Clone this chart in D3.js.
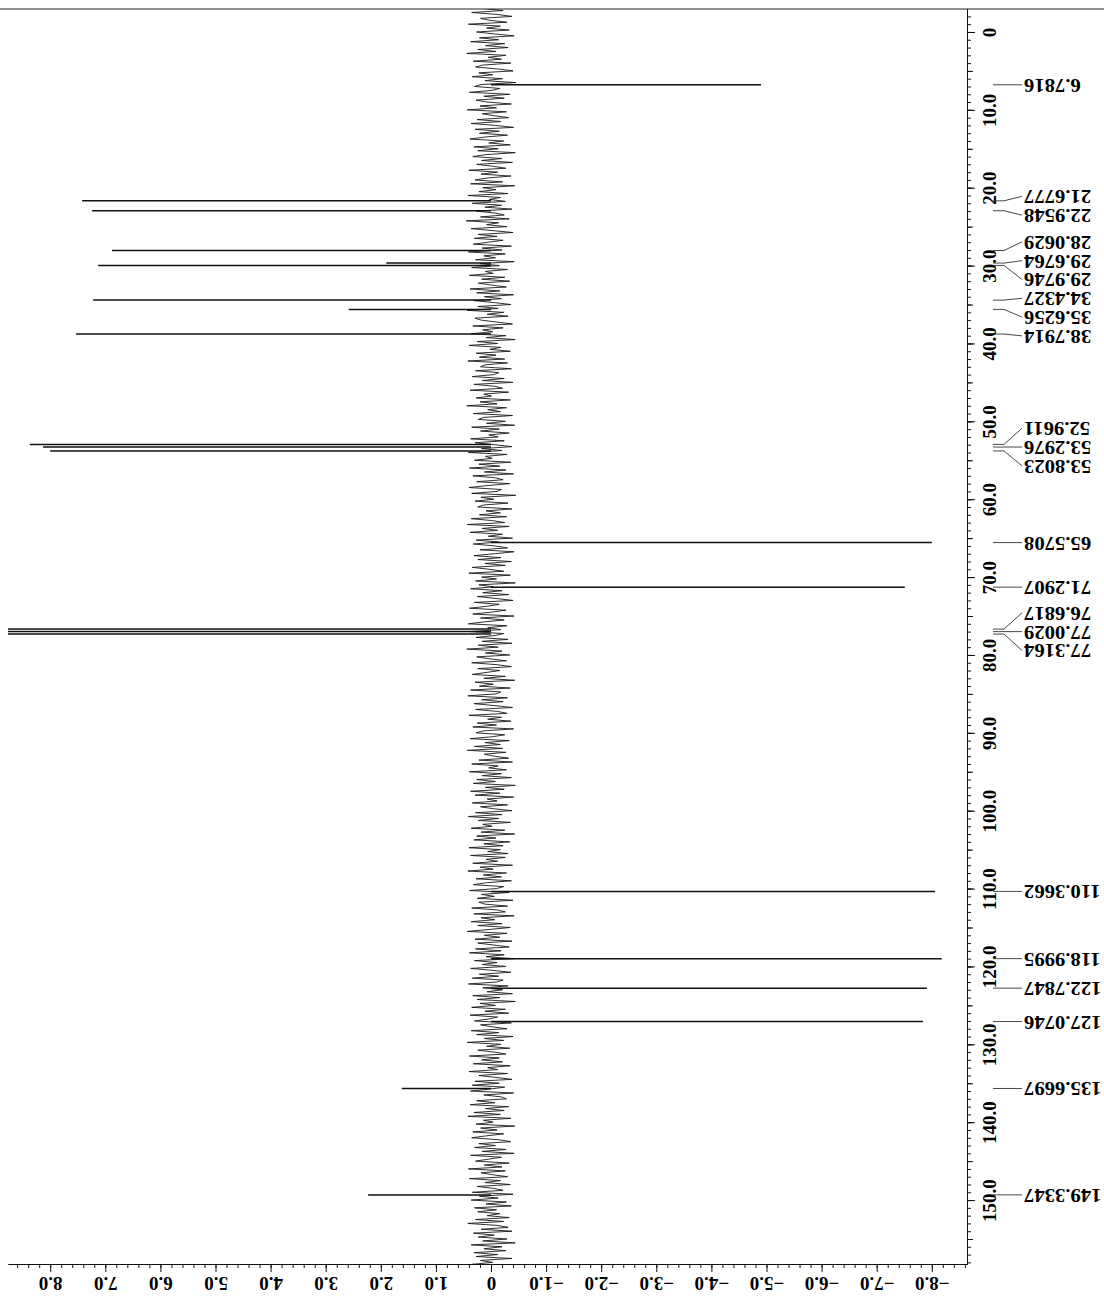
<!DOCTYPE html>
<html><head><meta charset="utf-8">
<script src="https://cdn.jsdelivr.net/npm/d3@7/dist/d3.min.js"></script>
<style>html,body{margin:0;padding:0;background:#fff;}svg{display:block;}</style>
</head><body>
<svg id="chart" width="1104" height="1300"></svg>
<script>
// ---- data ----
const peakPpm = [6.7816, 21.6777, 22.9548, 28.0629, 29.6764, 29.9746, 34.4327, 35.6256, 38.7914,
  52.9611, 53.2976, 53.8023, 65.5708, 71.2907, 76.6817, 77.0029, 77.3164,
  110.3662, 118.9995, 122.7847, 127.0746, 135.6697, 149.3347];
const peakIntensity = [-4.9, 7.42, 7.24, 6.88, 1.9, 7.13, 7.22, 2.58, 7.53,
  8.37, 8.13, 8.0, -8.0, -7.51, 9.5, 9.5, 9.3,
  -8.06, -8.18, -7.91, -7.84, 1.62, 2.23];
const peakLabels = ["6.7816","21.6777","22.9548","28.0629","29.6764","29.9746","34.4327","35.6256","38.7914",
  "52.9611","53.2976","53.8023","65.5708","71.2907","76.6817","77.0029","77.3164",
  "110.3662","118.9995","122.7847","127.0746","135.6697","149.3347"];
// baseline noise, one value every 0.25 ppm starting at -3.0 ppm (hundredths of an intensity unit)
const noiseStart = -3.0, noiseStep = 0.25;
const noiseValues = [
14,-22,35,-11,-38,19,3,-29,41,-17,8,-33,26,-6,-42,21,-14,37,-25,10,
-31,24,-9,44,-27,5,-19,32,-36,15,28,-12,-40,22,-3,34,-21,11,-45,18,
30,-16,-2,39,-34,13,-24,27,7,-37,20,-10,43,-28,16,-5,-32,25,-18,36,
-8,-41,29,-15,21,-30,12,38,-23,4,-35,31,-13,24,-44,9,33,-20,17,-39,
26,-4,-27,40,-12,18,-36,6,29,-21,37,-43,15,-9,22,-31,42,-17,3,-26,
34,-19,11,-38,27,-7,-24,19,-33,45,-14,8,-29,36,-2,-40,23,-11,30,-22,
5,32,-37,16,-20,41,-26,13,-8,28,-42,20,-15,35,-30,10,-4,39,-25,17,
-34,23,-1,-28,38,-16,26,-41,12,-19,31,-6,-36,24,-13,43,-23,7,-31,29,
18,-10,-39,33,-22,15,-3,36,-27,9,-44,25,-12,40,-18,2,-35,27,-9,21,
-25,42,-30,11,19,-37,28,-14,-5,34,-24,16,-40,31,-7,-21,38,-32,13,-1,
27,-35,20,-11,44,-28,6,-17,32,-39,14,23,-26,8,-43,35,-15,19,-33,4,
-13,37,-24,29,-6,-38,17,-20,41,-29,10,-2,30,-36,22,-16,39,-27,12,-41,
33,-8,-22,26,-34,7,40,-19,-11,35,-45,18,-5,29,-31,14,24,-38,9,-17,
21,-28,36,-3,-25,43,-33,16,-12,38,-21,5,-39,27,-14,32,-7,-30,20,-42,
-6,31,-18,24,-37,11,-26,34,3,-23,40,-35,17,-10,28,-44,22,-4,37,-20,
15,-32,25,-9,-40,30,-15,8,39,-27,-1,33,-42,19,-24,12,41,-29,6,-18,
38,-23,-7,27,-31,16,-38,23,-13,44,-20,10,-34,26,2,-28,35,-11,-37,24,
-16,9,34,-26,13,-43,29,-4,21,-35,37,-18,-9,42,-30,17,-22,31,-6,-39,
28,-12,-29,40,-19,6,-36,25,-10,33,-41,14,27,-25,-3,38,-33,11,-17,30,
-21,43,-27,12,-6,-32,22,-39,35,-13,4,-28,39,-19,16,-37,26,-8,32,-44,
10,-24,37,-16,29,-41,7,-11,34,-30,19,-5,-38,28,-20,41,-14,23,-35,15,
-2,36,-25,18,-43,26,-9,31,-34,13,-22,40,-17,6,-31,37,-26,9,-12,33,
-39,20,-4,42,-28,14,-19,27,-37,8,32,-23,-10,39,-33,17,-6,25,-40,22,
11,-30,35,-13,-26,31,-42,18,-7,36,-20,24,-35,3,43,-29,12,-16,29,-38,
24,-5,-33,28,-18,39,-24,9,-41,30,-11,16,-27,37,-3,-36,21,-14,34,-22,
-10,41,-31,15,-21,7,-39,33,-16,25,-44,20,-8,35,-26,11,-32,38,-12,4,
30,-37,19,-2,-29,36,-14,26,-40,12,-23,43,-18,8,-34,24,-6,-27,39,-15,
17,-21,32,-35,6,-12,40,-30,22,-9,-38,29,-15,34,-25,3,37,-41,13,-19,
-28,26,-7,38,-32,10,-24,31,-17,42,-36,14,-4,27,-43,19,-11,33,-23,8,
35,-14,-36,22,-8,30,-27,16,-42,37,-19,5,28,-33,12,-20,41,-26,18,-3,
-30,39,-17,11,-35,25,-5,-22,34,-40,21,-13,36,-28,9,-37,30,-10,24,-16,
7,-33,28,-23,42,-11,-31,18,-38,32,-6,23,-29,15,-44,36,-20,13,-27,31,
-12,27,-38,19,-3,34,-26,10,-35,40,-15,21,-32,6,29,-24,38,-18,12,-30];
const ppmTickValues = [0,10,20,30,40,50,60,70,80,90,100,110,120,130,140,150];
const ppmTickLabels = ["0","10.0","20.0","30.0","40.0","50.0","60.0","70.0","80.0","90.0","100.0","110.0","120.0","130.0","140.0","150.0"];
const intTickValues = [8,7,6,5,4,3,2,1,0,-1,-2,-3,-4,-5,-6,-7,-8];
const intTickLabels = ["8.0","7.0","6.0","5.0","4.0","3.0","2.0","1.0","0","\u22121.0","\u22122.0","\u22123.0","\u22124.0","\u22125.0","\u22126.0","\u22127.0","\u22128.0"];

// ---- layout ----
const pL = 8, pR = 967, pT = 9, pB = 1264;
const svg = d3.select("#chart");
const y = d3.scaleLinear().domain([-2.95, 158.21]).range([pT, pB]);
const x = d3.scaleLinear().domain([8.766, -8.639]).range([pL, pR]);
const font = "'Liberation Serif','Times New Roman',serif";

svg.append("defs").append("clipPath").attr("id","plot")
  .append("rect").attr("x", pL).attr("y", pT).attr("width", pR-pL).attr("height", pB-pT);

// noise trace
const noise = noiseValues.map((v,i)=>({p: noiseStart + i*noiseStep, v: v/100}));
svg.append("path").datum(noise)
  .attr("clip-path","url(#plot)")
  .attr("fill","none").attr("stroke","#1a1a1a").attr("stroke-width",0.9)
  .attr("d", d3.line().x(d=>x(d.v)).y(d=>y(d.p)));

// peaks
const peaks = peakPpm.map((p,i)=>({p, v: peakIntensity[i], label: peakLabels[i]}));
svg.append("g").attr("clip-path","url(#plot)")
  .selectAll("line").data(peaks).join("line")
  .attr("x1", x(0)).attr("x2", d=>x(d.v))
  .attr("y1", d=>y(d.p)).attr("y2", d=>y(d.p))
  .attr("stroke","#111").attr("stroke-width",1.5);

// top frame line
svg.append("line").attr("x1",0).attr("x2",1104).attr("y1",pT).attr("y2",pT)
  .attr("stroke","#222").attr("stroke-width",1.2);

// right (ppm) axis
function styleAxis(g){ g.selectAll("path,line").attr("stroke","#111").attr("stroke-width",1); }
const ra = svg.append("g").attr("transform",`translate(${pR},0)`);
ra.append("g").call(d3.axisRight(y).tickValues(d3.range(-2,159,1)).tickSize(4).tickSizeOuter(0).tickFormat("")).call(styleAxis);
ra.append("g").call(d3.axisRight(y).tickValues(d3.range(0,159,5)).tickSize(6).tickSizeOuter(0).tickFormat("")).call(styleAxis);
const raMaj = ra.append("g").call(d3.axisRight(y).tickValues(ppmTickValues).tickSize(8).tickSizeOuter(0)
  .tickFormat((d,i)=>ppmTickLabels[i])).call(styleAxis);
raMaj.selectAll("text").attr("x",null).attr("dy",null)
  .attr("transform","translate(22,0) rotate(-90)")
  .attr("text-anchor","middle").attr("dominant-baseline","central")
  .attr("font-family",font).attr("font-weight","bold").attr("font-size",19).attr("fill","#000");

// bottom (intensity) axis
const ba = svg.append("g").attr("transform",`translate(0,${pB})`);
ba.append("g").call(d3.axisBottom(x).tickValues(d3.range(-86,88,2).map(v=>v/10)).tickSize(4).tickSizeOuter(0).tickFormat("")).call(styleAxis);
const baMaj = ba.append("g").call(d3.axisBottom(x).tickValues(intTickValues).tickSize(8).tickSizeOuter(0)
  .tickFormat((d,i)=>intTickLabels[i])).call(styleAxis);
baMaj.selectAll("text").attr("y",null).attr("dy",null)
  .attr("transform","translate(0,19) rotate(180)")
  .attr("text-anchor","middle").attr("dominant-baseline","central")
  .attr("font-family",font).attr("font-weight","bold").attr("font-size",19).attr("fill","#000");

// peak labels: de-overlap by clusters
const gap = 18.8;
function layoutLabels(ys){
  let clusters = ys.map((v,i)=>({idx:[i], start:v}));
  function place(c){
    const d = c.idx.map((k,j)=>ys[k]-j*gap).sort((a,b)=>a-b);
    const m = d.length;
    c.start = m%2 ? d[(m-1)/2] : (d[m/2-1]+d[m/2])/2;
  }
  let changed = true;
  while(changed){
    changed = false;
    for(let i=0;i<clusters.length-1;i++){
      const a = clusters[i], b = clusters[i+1];
      if(a.start + a.idx.length*gap > b.start){
        a.idx = a.idx.concat(b.idx); clusters.splice(i+1,1); place(a); changed = true; break;
      }
    }
  }
  const out = [];
  clusters.forEach(c=>c.idx.forEach((k,j)=>out[k]=c.start+j*gap));
  return out;
}
const peakY = peaks.map(d=>y(d.p));
const labY = layoutLabels(peakY);
const lg = svg.append("g");
lg.selectAll("path").data(peaks).join("path")
  .attr("fill","none").attr("stroke","#333").attr("stroke-width",0.9)
  .attr("d",(d,i)=>`M${pR+26},${peakY[i]}H${pR+37}L${pR+55},${labY[i]}`);
lg.selectAll("text").data(peaks).join("text")
  .attr("transform",(d,i)=>`translate(${pR+57},${labY[i]}) scale(-1.15,-1)`)
  .attr("text-anchor","end").attr("dominant-baseline","central")
  .attr("font-family",font).attr("font-weight","bold").attr("font-size",18).attr("fill","#000")
  .text(d=>d.label);
</script>
</body></html>
